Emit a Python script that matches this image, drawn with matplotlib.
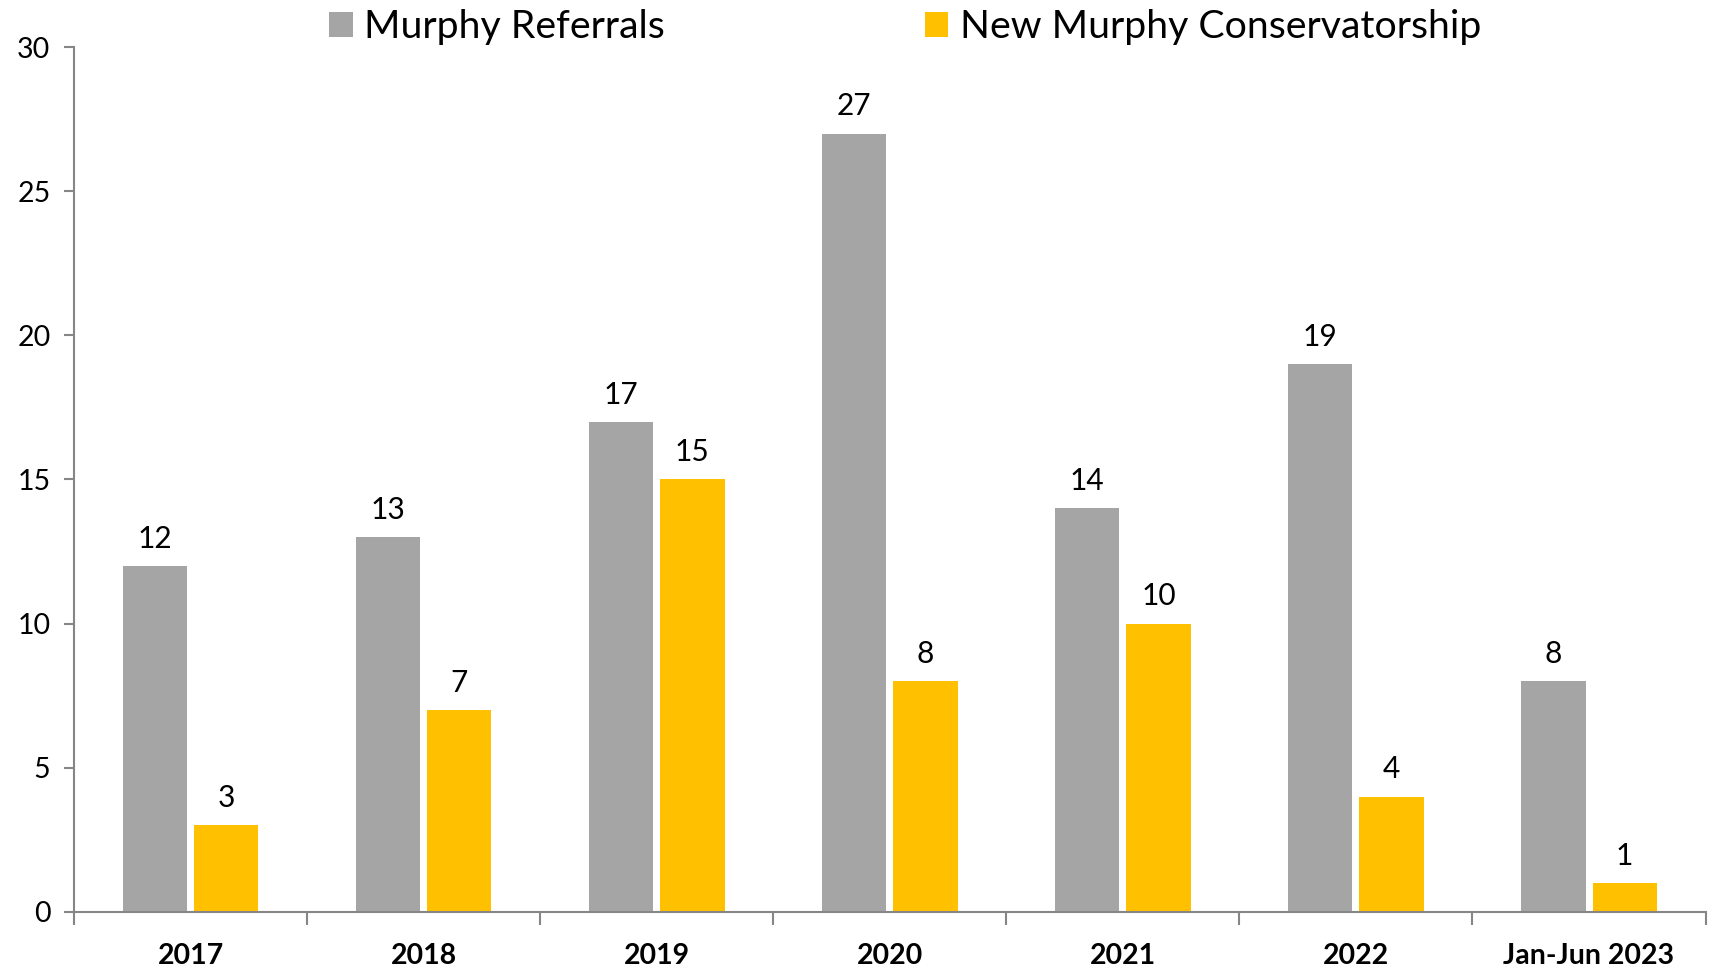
import matplotlib
matplotlib.use("Agg")
import matplotlib.pyplot as plt
import numpy as np

categories = ["2017", "2018", "2019", "2020", "2021", "2022", "Jan-Jun 2023"]
referrals = [12, 13, 17, 27, 14, 19, 8]
conservatorships = [3, 7, 15, 8, 10, 4, 1]
series_names = ["Murphy Referrals", "New Murphy Conservatorship"]
yticks = [0, 5, 10, 15, 20, 25, 30]

plt.rcParams['font.family'] = ['Lato', 'DejaVu Sans']

fig = plt.figure(figsize=(17.09, 9.68), dpi=100)
ax = fig.add_axes([0.0433, 0.0579, 0.9547, 0.8935])

x = np.arange(len(categories))
w = 0.276
off = 0.153
gray = "#A5A5A5"
gold = "#FFC000"
b1 = ax.bar(x - off, referrals, w, color=gray, label=series_names[0])
b2 = ax.bar(x + off, conservatorships, w, color=gold, label=series_names[1])

for bars, vals in ((b1, referrals), (b2, conservatorships)):
    for rect, v in zip(bars, vals):
        ax.annotate(str(v), (rect.get_x() + rect.get_width() / 2, rect.get_height()),
                    xytext=(0, 9.5), textcoords="offset points",
                    ha="center", va="bottom", fontsize=21.5, color="black")

ax.set_xlim(-0.5, len(categories) - 0.5)
ax.set_ylim(0, 30)
ax.set_yticks(yticks)
ax.set_yticklabels([str(t) for t in yticks], fontsize=20.5)

ax.set_xticks(np.arange(len(categories) + 1) - 0.5)
ax.set_xticklabels([])
ax.set_xticks(x, minor=True)
ax.set_xticklabels(categories, minor=True, fontsize=20.5, fontweight="bold")
ax.tick_params(axis="x", which="minor", length=0, pad=22.5)
ax.tick_params(axis="x", which="major", length=9, width=1.5, color="#868686", direction="out")
ax.tick_params(axis="y", length=7, width=1.5, color="#868686", pad=10)

for s in ["top", "right"]:
    ax.spines[s].set_visible(False)
for s in ["left", "bottom"]:
    ax.spines[s].set_color("#868686")
    ax.spines[s].set_linewidth(1.5)

fig.legend(handles=[b1, b2], labels=series_names, loc="center",
           bbox_to_anchor=(0.5297, 0.972), ncol=2, frameon=False,
           fontsize=28.3, handlelength=0.6, handleheight=0.6,
           handletextpad=0.3, columnspacing=6.6)

fig.savefig("out.png", dpi=100)
